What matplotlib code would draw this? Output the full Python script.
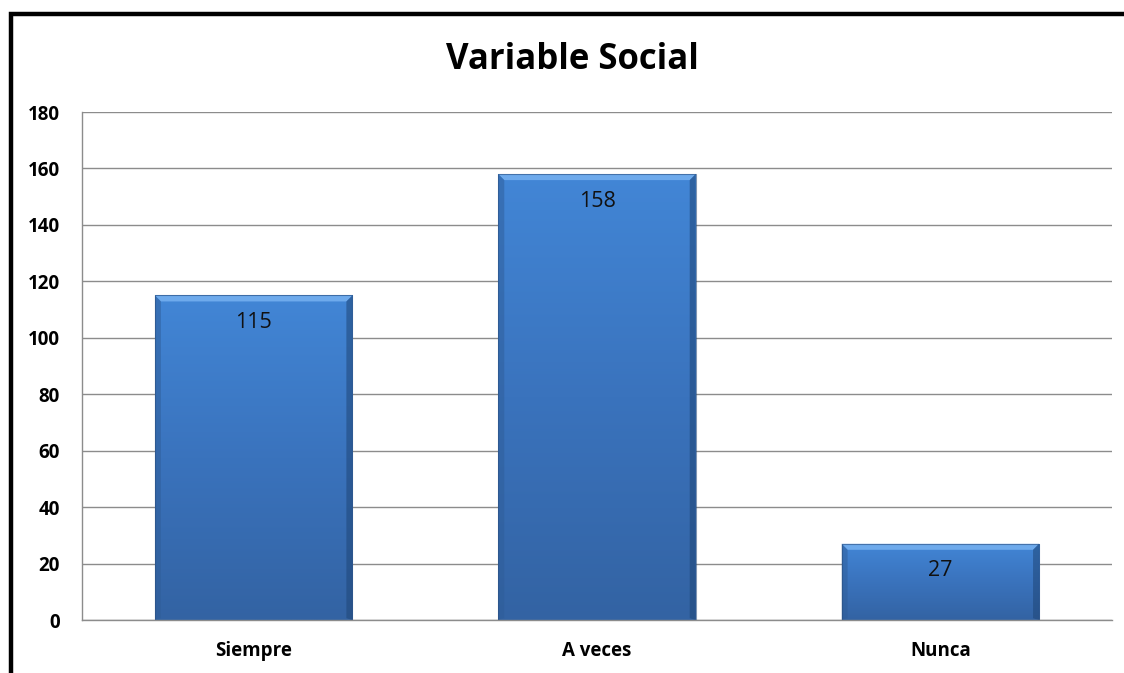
import matplotlib
matplotlib.use("Agg")
import matplotlib.pyplot as plt
import numpy as np
from matplotlib.patches import Polygon
from matplotlib.lines import Line2D
from matplotlib.colors import LinearSegmentedColormap

categories = ["Siempre", "A veces", "Nunca"]
values = [115, 158, 27]
yticks = [0, 20, 40, 60, 80, 100, 120, 140, 160, 180]
title = "Variable Social"

plt.rcParams['font.family'] = ['Open Sans', 'DejaVu Sans']

W, H = 1124, 673
fig = plt.figure(figsize=(W/100, H/100), dpi=100)
ax = fig.add_axes([82/W, 1-620/H, (1112-82)/W, (620-112)/H])

x = np.arange(len(categories))
bw = 0.575
bars = ax.bar(x, values, width=bw, color="#3b78c8", zorder=2, linewidth=0)

ax.set_xlim(-0.5, len(categories)-0.5)
ax.set_ylim(0, 180)
ax.set_yticks(yticks)
ax.set_xticks(x)
ax.set_xticklabels(categories, fontsize=13.5, fontweight='bold')
ax.set_yticklabels([str(t) for t in yticks], fontsize=13.5, fontweight='bold')
ax.tick_params(axis='y', length=0, pad=16)
ax.tick_params(axis='x', length=0, pad=15)
ax.yaxis.grid(True, color="#8c8c8c", linewidth=1.0, zorder=0)
ax.set_axisbelow(True)
for s in ['top', 'right']:
    ax.spines[s].set_visible(False)
ax.spines['left'].set_color("#8c8c8c")
ax.spines['bottom'].set_color("#8c8c8c")
ax.spines['left'].set_linewidth(1.0)
ax.spines['bottom'].set_linewidth(1.0)

# pixel -> data scale for bevel
dx = 1.0 / (1030/3)
dy = 180.0 / 508
bev_x = 6 * dx
bev_y = 6 * dy

grad = np.linspace(0, 1, 256).reshape(-1, 1)
cmap = LinearSegmentedColormap.from_list("g", ["#3363a3", "#3a73bd", "#4286d6"])
for b in bars:
    x0 = b.get_x(); x1 = x0 + b.get_width(); h = b.get_height()
    im = ax.imshow(grad, extent=[x0, x1, 0, h], origin='lower', aspect='auto',
                   cmap=cmap, zorder=2.1, vmin=0, vmax=1)
    im.set_clip_path(b)
    ax.add_patch(Polygon([[x0, h], [x1, h], [x1-bev_x, h-bev_y], [x0+bev_x, h-bev_y]],
                         closed=True, facecolor="#74afef", edgecolor='none', alpha=0.9, zorder=2.2))
    ax.add_patch(Polygon([[x0, h], [x0+bev_x, h-bev_y], [x0+bev_x, bev_y*0.3], [x0, 0]],
                         closed=True, facecolor="#2f5d98", edgecolor='none', alpha=0.5, zorder=2.2))
    ax.add_patch(Polygon([[x1, h], [x1-bev_x, h-bev_y], [x1-bev_x, bev_y*0.3], [x1, 0]],
                         closed=True, facecolor="#1f4677", edgecolor='none', alpha=0.55, zorder=2.2))
    ax.plot([x0, x0, x1, x1], [0, h, h, 0], color="#2a4f80", linewidth=0.8, alpha=0.6, zorder=2.3)

for xi, v in zip(x, values):
    ax.annotate(str(v), (xi, v), xytext=(0, -27), textcoords='offset pixels',
                ha='center', va='center', fontsize=15.5, color='#111111', zorder=3)

fig.text(572/W, 1-60/H, title, ha='center', va='center', fontsize=25, fontweight='bold')

fig.add_artist(Line2D([11/W, 11/W, 1.0], [0, 1-14/H, 1-14/H], transform=fig.transFigure,
                      color='black', linewidth=3.2, solid_joinstyle='miter'))

fig.savefig("out.png", dpi=100, facecolor='white')
